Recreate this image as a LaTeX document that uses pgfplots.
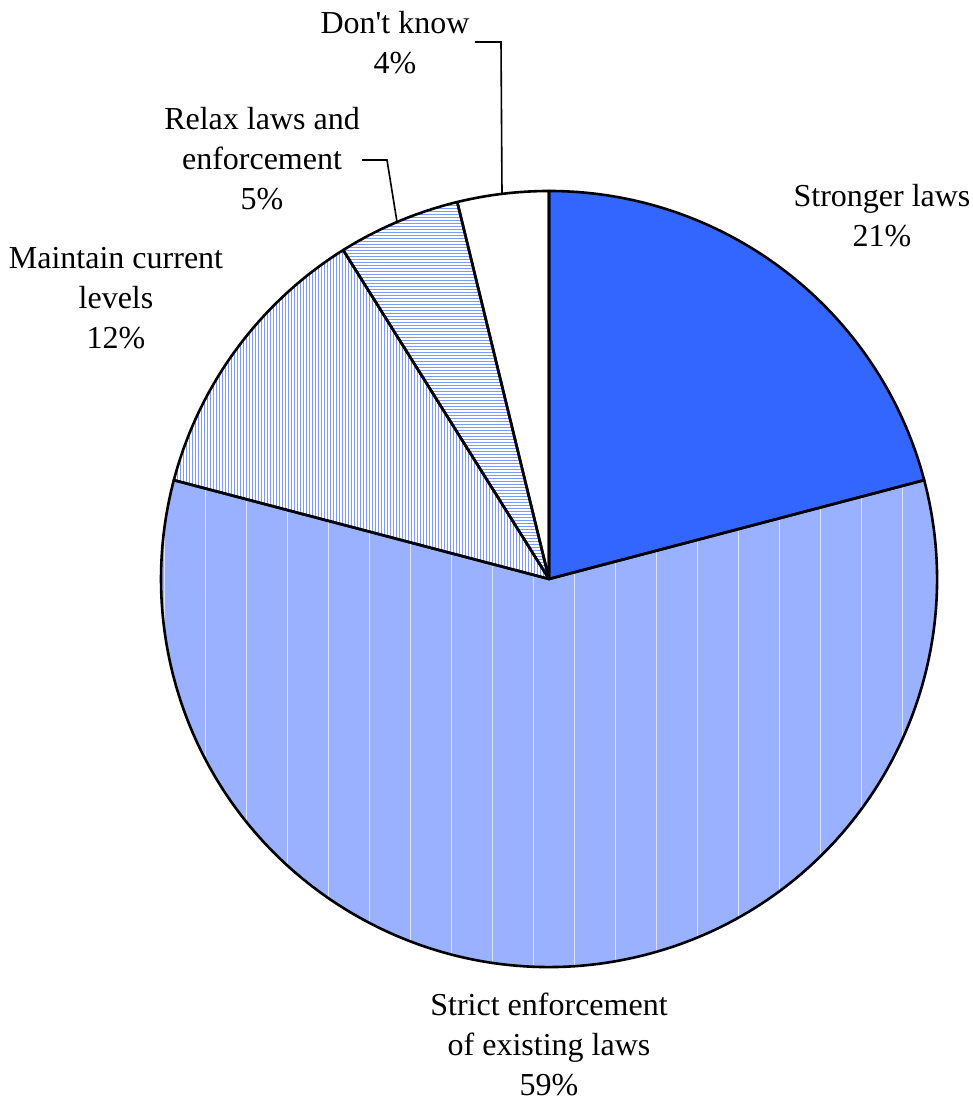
\documentclass[border=0pt]{standalone}
\usepackage{pgfplots}
\pgfplotsset{compat=1.18}
\usepackage{pgfplotstable}
\usepackage{fontspec}
\setmainfont{Liberation Serif}
\usetikzlibrary{patterns.meta}
\definecolor{pieblue}{HTML}{3366FF}
\definecolor{strictblue}{HTML}{99B1FF}
\tikzdeclarepattern{name=wvl, type=uncolored, bounding box={(0,0) and (20.5pt,10pt)}, tile size={(20.5pt,10pt)},
  code={\draw[line width=0.6pt] (0,-1pt) -- (0,11pt);}}
\tikzdeclarepattern{name=bvl, type=uncolored, bounding box={(0,0) and (1.5pt,1.5pt)}, tile size={(1.5pt,1.5pt)},
  code={\draw[line width=0.7pt] (0,-0.5pt) -- (0,2pt);}}
\tikzdeclarepattern{name=bhl, type=uncolored, bounding box={(0,0) and (1.5pt,1.5pt)}, tile size={(1.5pt,1.5pt)},
  code={\draw[line width=0.7pt] (-0.5pt,0) -- (2pt,0);}}
\newcommand\lbl{\fontsize{16}{20}\selectfont}
\pgfplotstableread{
label value
Stronger 20.9
Strict 58.2
Maintain 12.0
Relax 5.1
Dontknow 3.8
}\piedata
\pgfplotstablegetelem{0}{value}\of\piedata \let\vA\pgfplotsretval
\pgfplotstablegetelem{1}{value}\of\piedata \let\vB\pgfplotsretval
\pgfplotstablegetelem{2}{value}\of\piedata \let\vC\pgfplotsretval
\pgfplotstablegetelem{3}{value}\of\piedata \let\vD\pgfplotsretval
\pgfplotstablegetelem{4}{value}\of\piedata \let\vE\pgfplotsretval
\pgfmathsetmacro\aO{90}
\pgfmathsetmacro\aA{\aO-3.6*\vA}
\pgfmathsetmacro\aB{\aA-3.6*\vB}
\pgfmathsetmacro\aC{\aB-3.6*\vC}
\pgfmathsetmacro\aD{\aC-3.6*\vD}
\pgfmathsetmacro\aE{\aD-3.6*\vE}
\newcommand\slice[3]{(axis cs:549,524) -- ++(#1:194pt) arc[start angle=#1, end angle=#2, radius=194pt] -- cycle}
\begin{document}
\begin{tikzpicture}
\begin{axis}[hide axis, scale only axis, width=486.5pt, height=551.5pt,
  xmin=0, xmax=973, ymin=0, ymax=1103, clip=false]
\addplot[draw=none] coordinates {(0,0) (973,1103)};
\coordinate (ll) at (axis cs:0,0);
\coordinate (ur) at (axis cs:973,1103);
% slices
\path[fill=pieblue] \slice{\aO}{\aA}{};
\path[fill=strictblue, postaction={pattern=wvl, pattern color=white}] \slice{\aA}{\aB}{};
\path[fill=white, postaction={pattern=bvl, pattern color=pieblue}] \slice{\aB}{\aC}{};
\path[fill=white, postaction={pattern=bhl, pattern color=pieblue}] \slice{\aC}{\aD}{};
\path[fill=white] \slice{\aD}{\aE}{};
\draw[line width=1.3pt, line join=round] \slice{\aO}{\aA}{};
\draw[line width=1.3pt, line join=round] \slice{\aA}{\aB}{};
\draw[line width=1.3pt, line join=round] \slice{\aB}{\aC}{};
\draw[line width=1.3pt, line join=round] \slice{\aC}{\aD}{};
\draw[line width=1.3pt, line join=round] \slice{\aD}{\aE}{};
% leader lines
\draw[line width=0.8pt] (axis cs:475,1061) -- (axis cs:501,1061) -- (axis cs:502,910);
\draw[line width=0.8pt] (axis cs:362,943) -- (axis cs:387,943) -- (axis cs:397,881);
% labels
\node[align=center, font=\lbl] at (axis cs:882,887) {Stronger laws\\21\%};
\node[align=center, font=\lbl] at (axis cs:549,59) {Strict enforcement\\of existing laws\\59\%};
\node[align=center, font=\lbl] at (axis cs:116,805) {Maintain current\\levels\\12\%};
\node[align=center, font=\lbl] at (axis cs:262,944) {Relax laws and\\enforcement\\5\%};
\node[align=center, font=\lbl] at (axis cs:395,1060) {Don\textquotesingle t know\\4\%};
\end{axis}
\pgfresetboundingbox
\path[use as bounding box] (ll) rectangle (ur);
\end{tikzpicture}
\end{document}
